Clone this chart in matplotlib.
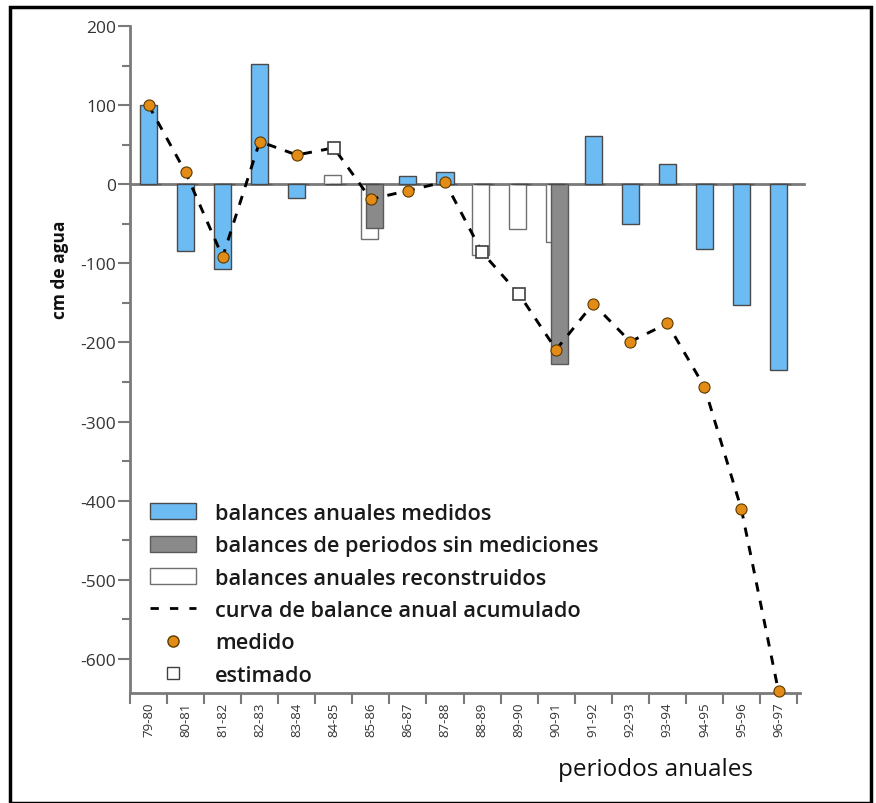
import numpy as np
import matplotlib.pyplot as plt
from matplotlib.patches import Patch, Rectangle
from matplotlib.lines import Line2D
from matplotlib.ticker import MultipleLocator

plt.rcParams['font.family'] = ['Open Sans', 'DejaVu Sans']
plt.rcParams['axes.unicode_minus'] = False

periods = ["79-80", "80-81", "81-82", "82-83", "83-84", "84-85", "85-86", "86-87", "87-88",
           "88-89", "89-90", "90-91", "91-92", "92-93", "93-94", "94-95", "95-96", "96-97"]
nan = np.nan
# balances anuales medidos (azul)
medidos = [100, -85, -107, 152, -18, nan, nan, 10, 16, nan, nan, nan, 61, -50, 25, -82, -153, -235]
# balances de periodos sin mediciones (gris)
sin_mediciones = [nan, nan, nan, nan, nan, nan, -55, nan, nan, nan, nan, -227, nan, nan, nan, nan, nan, nan]
# balances anuales reconstruidos (blanco)
reconstruidos = [nan, nan, nan, nan, nan, 12, -69, nan, nan, -89, -57, -73, nan, nan, nan, nan, nan, nan]
# curva de balance anual acumulado
acumulado = [100, 15, -92, 54, 37, 46, -19, -8, 3, -86, -139, -209, -151, -199, -176, -256, -411, -641]
estimado = [False, False, False, False, False, True, False, False, False,
            True, True, False, False, False, False, False, False, False]

blue = "#6dbbf3"
grey = "#8a8a8a"
orange = "#e38b17"
axc = "#7a7a7a"

x = np.arange(len(periods))
med = np.array(medidos, dtype=float)
sm = np.array(sin_mediciones, dtype=float)
rec = np.array(reconstruidos, dtype=float)
acu = np.array(acumulado, dtype=float)
est = np.array(estimado)

fig = plt.figure(figsize=(8.76, 8.04), dpi=100)
ax = fig.add_axes([130 / 876, 1 - 694 / 804, 670 / 876, 667 / 804])

w = 0.46
ax.bar(x - 0.04, np.nan_to_num(rec), width=w, color="white", edgecolor="#707070", linewidth=1.0, zorder=2)
ax.bar(x + 0.1, np.nan_to_num(sm), width=w, color=grey, edgecolor="#5a5a5a", linewidth=1.0, zorder=3)
ax.bar(x, np.nan_to_num(med), width=w, color=blue, edgecolor="#4a4a4a", linewidth=1.0, zorder=3)

ax.plot([-0.5, 17.7], [0, 0], color=axc, linewidth=2, zorder=1, clip_on=False)

ax.plot(x, acu, color="black", linestyle=(0, (3.2, 3.2)), linewidth=2.1, zorder=4)
ax.plot(x[~est], acu[~est], "o", color=orange, markeredgecolor="#5a3a00",
        markeredgewidth=0.8, markersize=8, zorder=5, clip_on=False)
ax.plot(x[est], acu[est], "s", color="white", markeredgecolor="#404040",
        markeredgewidth=1.2, markersize=8, zorder=5)

ax.set_xlim(-0.5, 17.58)
ax.set_ylim(-643, 200)

for s in ["top", "right"]:
    ax.spines[s].set_visible(False)
for s in ["left", "bottom"]:
    ax.spines[s].set_color(axc)
    ax.spines[s].set_linewidth(2)

ax.yaxis.set_major_locator(MultipleLocator(100))
ax.yaxis.set_minor_locator(MultipleLocator(50))
ax.tick_params(axis="y", which="major", length=9, width=1.5, color=axc, labelsize=12.5, labelcolor="#333333", pad=1)
ax.tick_params(axis="y", which="minor", length=6, width=1.5, color=axc)

ax.set_xticks(x)
ax.set_xticklabels(periods, rotation=90, fontsize=9.5, color="#333333")
ax.set_xticks(np.arange(-0.5, 18, 1), minor=True)
ax.tick_params(axis="x", which="major", length=0, pad=6)
ax.tick_params(axis="x", which="minor", length=8, width=1.5, color=axc)

fig.text(60 / 876, 1 - 270 / 804, "cm de agua", rotation=90, ha="center", va="center",
         fontsize=12.5, fontweight="bold", color="#111111")
fig.text(656 / 876, 1 - 770 / 804, "periodos anuales", ha="center", va="center",
         fontsize=17.5, fontweight="medium", color="#111111")

handles = [
    Patch(facecolor=blue, edgecolor="#4a4a4a", linewidth=1.0),
    Patch(facecolor=grey, edgecolor="#5a5a5a", linewidth=1.0),
    Patch(facecolor="white", edgecolor="#707070", linewidth=1.0),
    Line2D([], [], color="black", linestyle=(0, (3.0, 4.0)), linewidth=2),
    Line2D([], [], marker="o", linestyle="none", color=orange, markeredgecolor="#5a3a00", markersize=8),
    Line2D([], [], marker="s", linestyle="none", color="white", markeredgecolor="#404040", markersize=8),
]
labels = ["balances anuales medidos", "balances de periodos sin mediciones",
          "balances anuales reconstruidos", "curva de balance anual acumulado",
          "medido", "estimado"]
leg = ax.legend(handles, labels, loc="upper left", bbox_to_anchor=(0.0165, 0.298),
                frameon=False, fontsize=15.7, handlelength=2.1, handleheight=0.74,
                labelspacing=0.52, handletextpad=0.88, borderaxespad=0)
for t in leg.get_texts():
    t.set_fontweight("semibold")
    t.set_color("#1a1a1a")

fig.patches.append(Rectangle((10 / 876, 0), 861 / 876, 1 - 8 / 804, transform=fig.transFigure,
                             fill=False, edgecolor="black", linewidth=2.5))

fig.savefig("out.png", dpi=100)
